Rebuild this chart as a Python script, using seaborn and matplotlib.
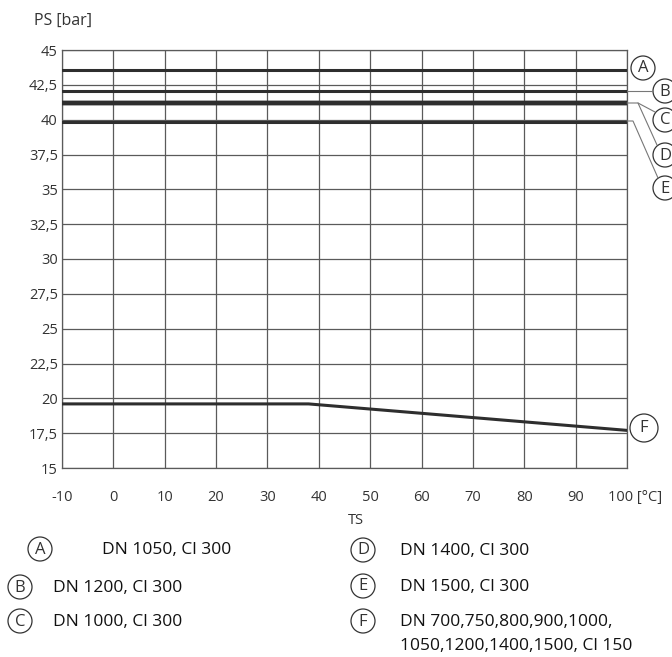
import numpy as np
import pandas as pd
import matplotlib
matplotlib.use("Agg")
import matplotlib.pyplot as plt
import matplotlib.transforms as mtrans
from matplotlib.patches import Circle
from matplotlib.lines import Line2D
import seaborn as sns

# ---- data ----
temp_const = [-10, 100]
ps_A = [43.6, 43.6]
ps_B = [42.05, 42.05]
ps_C = [41.2, 41.2]
ps_D = [41.2, 41.2]
ps_E = [39.85, 39.85]
temp_F = [-10, 38, 100]
ps_F = [19.6, 19.6, 17.7]

x_ticks = [-10, 0, 10, 20, 30, 40, 50, 60, 70, 80, 90, 100]
x_ticklabels = ["-10", "0", "10", "20", "30", "40", "50", "60", "70", "80", "90", "100 [°C]"]
y_ticks = [15, 17.5, 20, 22.5, 25, 27.5, 30, 32.5, 35, 37.5, 40, 42.5, 45]
y_ticklabels = ["15", "17,5", "20", "22,5", "25", "27,5", "30", "32,5", "35", "37,5", "40", "42,5", "45"]

legend_keys = ["A", "B", "C", "D", "E", "F"]
legend_texts = ["DN 1050, Cl 300", "DN 1200, Cl 300", "DN 1000, Cl 300",
                "DN 1400, Cl 300", "DN 1500, Cl 300",
                "DN 700,750,800,900,1000,\n1050,1200,1400,1500, Cl 150"]

rows = []
for key, xs, ys in [("A", temp_const, ps_A), ("B", temp_const, ps_B),
                    ("C", temp_const, ps_C), ("D", temp_const, ps_D),
                    ("E", temp_const, ps_E), ("F", temp_F, ps_F)]:
    for x, y in zip(xs, ys):
        rows.append({"series": key, "TS": x, "PS": y})
df = pd.DataFrame(rows)
widths = {"A": 2.2, "B": 2.2, "C": 3.2, "D": 3.2, "E": 2.2, "F": 2.2}

sns.set_theme(style="white")
plt.rcParams["font.family"] = ["Open Sans", "DejaVu Sans"]

W, H = 672, 657
fig = plt.figure(figsize=(W / 100, H / 100), dpi=100)
ax = fig.add_axes([62 / W, 1 - 468 / H, (627 - 62) / W, (468 - 50) / H])

grid_c = "#5a5a5a"
line_c = "#2e2e2e"
for key in legend_keys:
    sub = df[df["series"] == key]
    sns.lineplot(data=sub, x="TS", y="PS", ax=ax, color=line_c,
                 linewidth=widths[key], estimator=None, sort=False, legend=False, zorder=3)

ax.set_xlim(-10, 100)
ax.set_ylim(15, 45)
ax.set_xticks(x_ticks)
ax.set_xticklabels(x_ticklabels)
ax.set_yticks(y_ticks)
ax.set_yticklabels(y_ticklabels)
ax.grid(True, color=grid_c, linewidth=0.9)
for s in ax.spines.values():
    s.set_color(grid_c)
    s.set_linewidth(0.9)
ax.tick_params(axis="both", length=0, labelsize=10.5, labelcolor="#333333")
ax.tick_params(axis="x", pad=16)
ax.tick_params(axis="y", pad=3)
ax.set_xlabel("")
ax.set_ylabel("")
# last tick label carries the unit: shift it so the number sits on the gridline
last = ax.get_xticklabels()[-1]
last.set_horizontalalignment("left")
last.set_transform(last.get_transform() + mtrans.ScaledTranslation(-19 / 100, 0, fig.dpi_scale_trans))

tr = fig.dpi_scale_trans


def P(x, y):
    return (x / 100, (H - y) / 100)


fig.text(*P(34, 21), "PS [bar]", transform=tr, fontsize=11.5, color="#333333",
         ha="left", va="center")
fig.text(*P(356, 520), "TS", transform=tr, fontsize=10.5, color="#333333",
         ha="center", va="center")


def circ(x, y, letter, r=12):
    c = Circle(P(x, y), r / 100, transform=tr, fill=False, edgecolor="#333333",
               linewidth=0.9, clip_on=False)
    fig.add_artist(c)
    fig.text(*P(x, y + 0.5), letter, transform=tr, fontsize=12, color="#333333",
             ha="center", va="center")


def seg(pts):
    xs = [P(a, b)[0] for a, b in pts]
    ys = [P(a, b)[1] for a, b in pts]
    fig.add_artist(Line2D(xs, ys, transform=tr, color="#777777", linewidth=0.8))


# right-side markers
circ(643, 68, "A")
circ(665, 91, "B")
circ(665, 120, "C")
circ(665, 155, "D")
circ(665, 188, "E")
circ(644, 428, "F", r=14)
seg([(627, 91), (653, 91)])
seg([(627, 103), (638, 103), (655, 112)])
seg([(638, 103), (657, 145)])
seg([(627, 121), (633, 121), (658, 178)])

# bottom legend
leg_pos = [(40, 549, 102), (20, 587, 53), (20, 621, 53),
           (363, 550, 400), (363, 586, 400), (363, 621, 400)]
for key, txt, (cx, cy, tx) in zip(legend_keys, legend_texts, leg_pos):
    circ(cx, cy, key)
    for i, line in enumerate(txt.split("\n")):
        fig.text(*P(tx, cy + 1 + 24 * i), line, transform=tr, fontsize=12.5,
                 color="#111111", ha="left", va="center")

fig.savefig("out.png", dpi=100)
